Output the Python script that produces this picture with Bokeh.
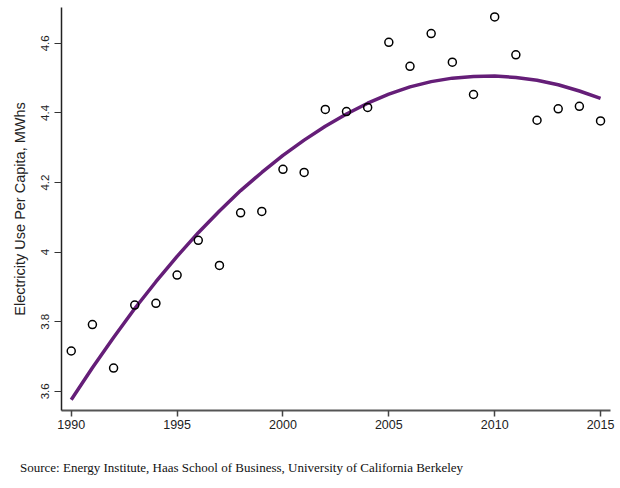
from bokeh.plotting import figure
from bokeh.models import Range1d, FixedTicker, NumeralTickFormatter, ColumnDataSource, Div
from bokeh.layouts import column
from bokeh.embed import file_html
from bokeh.resources import INLINE

years = list(range(1990, 2016))
usage = [3.716, 3.792, 3.667, 3.848, 3.853, 3.934, 4.034, 3.962, 4.113, 4.117,
         4.238, 4.229, 4.410, 4.404, 4.416, 4.603, 4.534, 4.628, 4.546, 4.453,
         4.676, 4.567, 4.379, 4.412, 4.419, 4.377]
fit = [3.576, 3.668, 3.755, 3.838, 3.915, 3.988, 4.056, 4.118, 4.177, 4.229,
       4.278, 4.322, 4.362, 4.397, 4.428, 4.454, 4.475, 4.490, 4.500, 4.505,
       4.506, 4.502, 4.494, 4.481, 4.463, 4.442]
x_ticks = [1990, 1995, 2000, 2005, 2010, 2015]
y_ticks = [3.6, 3.8, 4.0, 4.2, 4.4, 4.6]
y_title = "Electricity Use Per Capita, MWhs"
source_text = "Source: Energy Institute, Haas School of Business, University of California Berkeley"

src = ColumnDataSource(dict(year=years, usage=usage, fit=fit))

p = figure(width=616, height=436, output_backend="svg", toolbar_location=None,
           x_range=Range1d(1989.54, 2015.47), y_range=Range1d(3.545, 4.703),
           min_border_left=61, min_border_right=6, min_border_top=7,
           min_border_bottom=26,
           background_fill_color="white", border_fill_color="white")
p.outline_line_color = None
p.xgrid.grid_line_color = None
p.ygrid.grid_line_color = None

p.line("year", "fit", source=src, line_color="#651e78", line_width=3.5)
p.scatter("year", "usage", source=src, size=8, fill_color=None,
          line_color="black", line_width=1.5)

xa = p.xaxis[0]
xa.ticker = FixedTicker(ticks=x_ticks)
xa.axis_line_color = "#555555"
xa.axis_line_width = 2
xa.major_tick_line_color = "#444444"
xa.major_tick_line_width = 1.5
xa.major_tick_out = 6
xa.major_tick_in = 0
xa.minor_tick_line_color = None
xa.major_label_text_font = "Liberation Sans"
xa.major_label_text_font_size = "12.5px"
xa.major_label_text_color = "#222222"
xa.major_label_standoff = 3

ya = p.yaxis[0]
ya.ticker = FixedTicker(ticks=y_ticks)
ya.formatter = NumeralTickFormatter(format="0.[0]")
ya.axis_line_color = "#222222"
ya.axis_line_width = 1.5
ya.major_tick_line_color = "#333333"
ya.major_tick_line_width = 1.2
ya.major_tick_out = 7
ya.major_tick_in = 0
ya.minor_tick_line_color = None
ya.major_label_orientation = "vertical"
ya.major_label_text_font = "Liberation Sans"
ya.major_label_text_font_size = "11.5px"
ya.major_label_text_color = "#222222"
ya.major_label_standoff = 5
ya.axis_label = y_title
ya.axis_label_text_font = "Liberation Sans"
ya.axis_label_text_font_style = "normal"
ya.axis_label_text_font_size = "14.5px"
ya.axis_label_text_color = "#222222"
ya.axis_label_standoff = 11

note = Div(text=source_text, width=600, height=40, margin=(0, 0, 0, 0),
           styles={"font-family": "Liberation Serif", "font-size": "13px",
                   "color": "#111111", "padding-left": "20px",
                   "padding-top": "24px", "line-height": "16px"})

layout = column(p, note, spacing=0)

open("out.html", "w").write(file_html(layout, INLINE))
